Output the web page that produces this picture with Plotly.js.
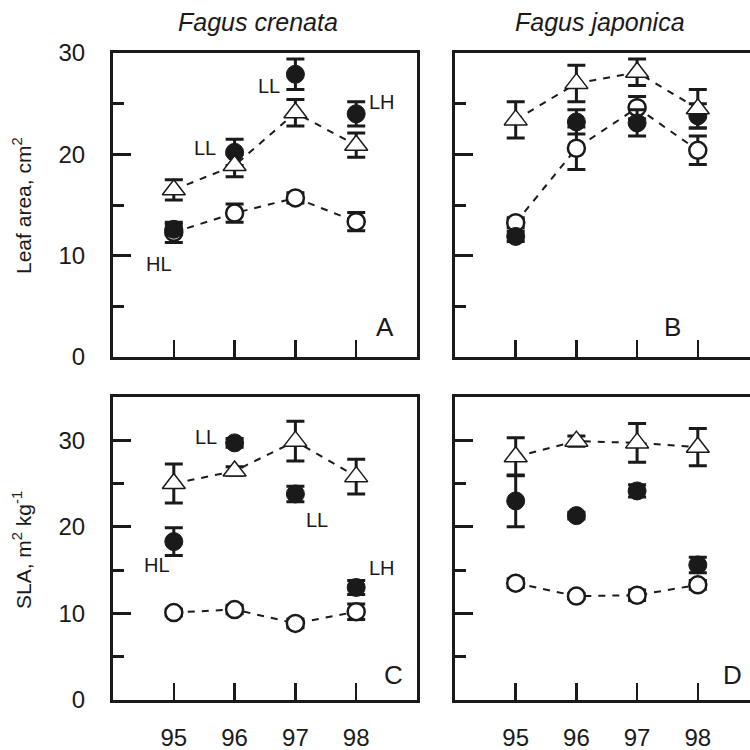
<!DOCTYPE html>
<html>
<head>
<meta charset="utf-8">
<script src="https://cdn.plot.ly/plotly-3.0.1.min.js"></script>
<style>
  html, body { margin: 0; padding: 0; background: #fff; }
  #chart { width: 750px; height: 750px; }
</style>
</head>
<body>
<div id="chart"></div>
<script>
// Sampling years
const years = [95, 96, 97, 98];
const yearLabels = ['95', '96', '97', '98'];

// Leaf area (cm2), Fagus crenata
const crenataAreaOpen = [12.3, 14.2, 15.7, 13.35];
const crenataAreaOpenErr = [1.0, 0.9, 0.5, 0.9];
const crenataAreaFilled = [12.6, 20.2, 27.9, 24.0];
const crenataAreaFilledErr = [0.5, 1.3, 1.5, 1.2];
const crenataAreaTri = [16.5, 18.9, 24.1, 20.9];
const crenataAreaTriErr = [1.0, 1.1, 1.3, 1.2];

// Leaf area (cm2), Fagus japonica
const japonicaAreaOpen = [13.25, 20.6, 24.6, 20.4];
const japonicaAreaOpenErr = [0.5, 2.1, 1.1, 1.4];
const japonicaAreaFilled = [11.9, 23.2, 23.1, 23.8];
const japonicaAreaFilledErr = [0.5, 1.2, 1.3, 1.2];
const japonicaAreaTri = [23.4, 27.0, 28.1, 24.5];
const japonicaAreaTriErr = [1.8, 1.8, 1.3, 1.9];

// SLA (m2 kg-1), Fagus crenata
const crenataSlaOpen = [10.1, 10.45, 8.85, 10.2];
const crenataSlaOpenErr = [0.4, 0.5, 0.5, 0.9];
const crenataSlaFilled = [18.3, 29.7, 23.8, 13.0];
const crenataSlaFilledErr = [1.6, 0.5, 0.9, 0.8];
const crenataSlaTri = [25.0, 26.45, 29.9, 25.8];
const crenataSlaTriErr = [2.25, 0.5, 2.3, 2.0];

// SLA (m2 kg-1), Fagus japonica
const japonicaSlaOpen = [13.5, 12.0, 12.1, 13.3];
const japonicaSlaOpenErr = [0.5, 0.3, 0.6, 0.5];
const japonicaSlaFilled = [23.0, 21.3, 24.15, 15.6];
const japonicaSlaFilledErr = [3.0, 0.4, 0.7, 0.9];
const japonicaSlaTri = [28.1, 29.9, 29.7, 29.2];
const japonicaSlaTriErr = [2.2, 0.6, 2.25, 2.15];

// Light-regime labels for the transplanted (filled) points
const crenataAreaLabels = [
  {x: 94.76, y: 9.2, t: 'HL'}, {x: 95.51, y: 20.6, t: 'LL'},
  {x: 96.56, y: 26.7, t: 'LL'}, {x: 98.43, y: 25.2, t: 'LH'}
];
const crenataSlaLabels = [
  {x: 94.73, y: 15.6, t: 'HL'}, {x: 95.53, y: 30.4, t: 'LL'},
  {x: 97.36, y: 20.8, t: 'LL'}, {x: 98.43, y: 15.2, t: 'LH'}
];

const FONT = 'Liberation Sans, Arial, Helvetica, sans-serif';
const INK = '#1a1a1a';

function err(arr) {
  return {type: 'data', array: arr, visible: true, color: INK, thickness: 3, width: 9};
}
function openTrace(y, e, xa, ya) {
  return {x: years, y: y, xaxis: xa, yaxis: ya, type: 'scatter', mode: 'lines+markers',
    line: {color: INK, width: 2, dash: '7px,7px'},
    marker: {symbol: 'circle', size: 17, color: '#fff', line: {color: INK, width: 2.5}},
    error_y: err(e), showlegend: false, hoverinfo: 'skip'};
}
function filledTrace(y, e, xa, ya) {
  return {x: years, y: y, xaxis: xa, yaxis: ya, type: 'scatter', mode: 'markers',
    marker: {symbol: 'circle', size: 18, color: INK, line: {color: INK, width: 1}},
    error_y: err(e), showlegend: false, hoverinfo: 'skip'};
}
function triTrace(y, e, xa, ya) {
  return {x: years, y: y, xaxis: xa, yaxis: ya, type: 'scatter', mode: 'lines+markers',
    line: {color: INK, width: 2, dash: '7px,7px'},
    marker: {symbol: 'triangle-up', size: 20, color: '#fff', line: {color: INK, width: 1.5}},
    error_y: err(e), showlegend: false, hoverinfo: 'skip'};
}

const data = [
  openTrace(crenataAreaOpen, crenataAreaOpenErr, 'x', 'y'),
  filledTrace(crenataAreaFilled, crenataAreaFilledErr, 'x', 'y'),
  triTrace(crenataAreaTri, crenataAreaTriErr, 'x', 'y'),
  openTrace(japonicaAreaOpen, japonicaAreaOpenErr, 'x2', 'y2'),
  filledTrace(japonicaAreaFilled, japonicaAreaFilledErr, 'x2', 'y2'),
  triTrace(japonicaAreaTri, japonicaAreaTriErr, 'x2', 'y2'),
  openTrace(crenataSlaOpen, crenataSlaOpenErr, 'x3', 'y3'),
  filledTrace(crenataSlaFilled, crenataSlaFilledErr, 'x3', 'y3'),
  triTrace(crenataSlaTri, crenataSlaTriErr, 'x3', 'y3'),
  openTrace(japonicaSlaOpen, japonicaSlaOpenErr, 'x4', 'y4'),
  filledTrace(japonicaSlaFilled, japonicaSlaFilledErr, 'x4', 'y4'),
  triTrace(japonicaSlaTri, japonicaSlaTriErr, 'x4', 'y4')
];

const W = 750;
const leftDom = [113 / W, 417 / W];
const rightDom = [455 / W, 1];
const topDom = [1 - 357 / W, 1 - 53 / W];
const botDom = [1 - 700 / W, 1 - 397 / W];

function xAxis(dom, range, anchor, labels) {
  return {domain: dom, range: range, anchor: anchor, tickmode: 'array',
    tickvals: years, ticktext: yearLabels, showticklabels: labels,
    ticks: 'inside', ticklen: 17, tickwidth: 2.5, tickcolor: INK,
    showline: true, linewidth: 3, linecolor: INK, mirror: true,
    showgrid: false, zeroline: false, ticklabelstandoff: 14,
    tickfont: {family: FONT, size: 24, color: INK}};
}
function yAxis(dom, range, anchor, labels, rightLine) {
  return {domain: dom, range: range, anchor: anchor, tick0: 0, dtick: 10,
    showticklabels: labels, ticks: 'inside', ticklen: 18, tickwidth: 3, tickcolor: INK,
    minor: {dtick: 5, tick0: 0, ticks: 'inside', ticklen: 11, tickwidth: 3, tickcolor: INK, showgrid: false},
    showline: true, linewidth: 3, linecolor: INK, mirror: rightLine,
    showgrid: false, zeroline: false, ticklabelstandoff: 20,
    tickfont: {family: FONT, size: 24, color: INK}};
}

const annotations = [];
function addText(xref, yref, x, y, text, size) {
  annotations.push({xref: xref, yref: yref, x: x, y: y, text: text, showarrow: false,
    xanchor: 'center', yanchor: 'middle', font: {family: FONT, size: size, color: INK}});
}
crenataAreaLabels.forEach(l => addText('x', 'y', l.x, l.y, l.t, 20));
crenataSlaLabels.forEach(l => addText('x3', 'y3', l.x, l.y, l.t, 20));

// Panel letters
addText('x domain', 'y domain', 0.895, 0.099, 'A', 26);
addText('x2 domain', 'y2 domain', 0.736, 0.099, 'B', 26);
addText('x3 domain', 'y3 domain', 0.924, 0.083, 'C', 26);
addText('x4 domain', 'y4 domain', 0.939, 0.083, 'D', 26);

// Column titles (species)
addText('paper', 'paper', 258 / W, 1 - 22 / W, '<i>Fagus crenata</i>', 25);
addText('paper', 'paper', 600 / W, 1 - 22 / W, '<i>Fagus japonica</i>', 25);

// Row titles
annotations.push({xref: 'paper', yref: 'paper', x: 22 / W, y: 1 - 206 / W,
  text: 'Leaf area, cm<sup>2</sup>', textangle: -90, showarrow: false,
  xanchor: 'center', yanchor: 'middle', font: {family: FONT, size: 21, color: INK}});
annotations.push({xref: 'paper', yref: 'paper', x: 22 / W, y: 1 - 550 / W,
  text: 'SLA, m<sup>2</sup> kg<sup>-1</sup>', textangle: -90, showarrow: false,
  xanchor: 'center', yanchor: 'middle', font: {family: FONT, size: 21, color: INK}});

const layout = {
  width: 750, height: 750,
  margin: {l: 0, r: 0, t: 0, b: 0},
  paper_bgcolor: '#fff', plot_bgcolor: '#fff',
  showlegend: false,
  xaxis: xAxis(leftDom, [94, 99], 'y', false),
  yaxis: yAxis(topDom, [0, 30], 'x', true, true),
  xaxis2: xAxis(rightDom, [94, 98.86], 'y2', false),
  yaxis2: yAxis(topDom, [0, 30], 'x2', false, false),
  xaxis3: xAxis(leftDom, [94, 99], 'y3', true),
  yaxis3: yAxis(botDom, [0, 35], 'x3', true, true),
  xaxis4: xAxis(rightDom, [94, 98.86], 'y4', true),
  yaxis4: yAxis(botDom, [0, 35], 'x4', false, false),
  annotations: annotations
};

Plotly.newPlot('chart', data, layout, {displayModeBar: false, staticPlot: true});
</script>
</body>
</html>
